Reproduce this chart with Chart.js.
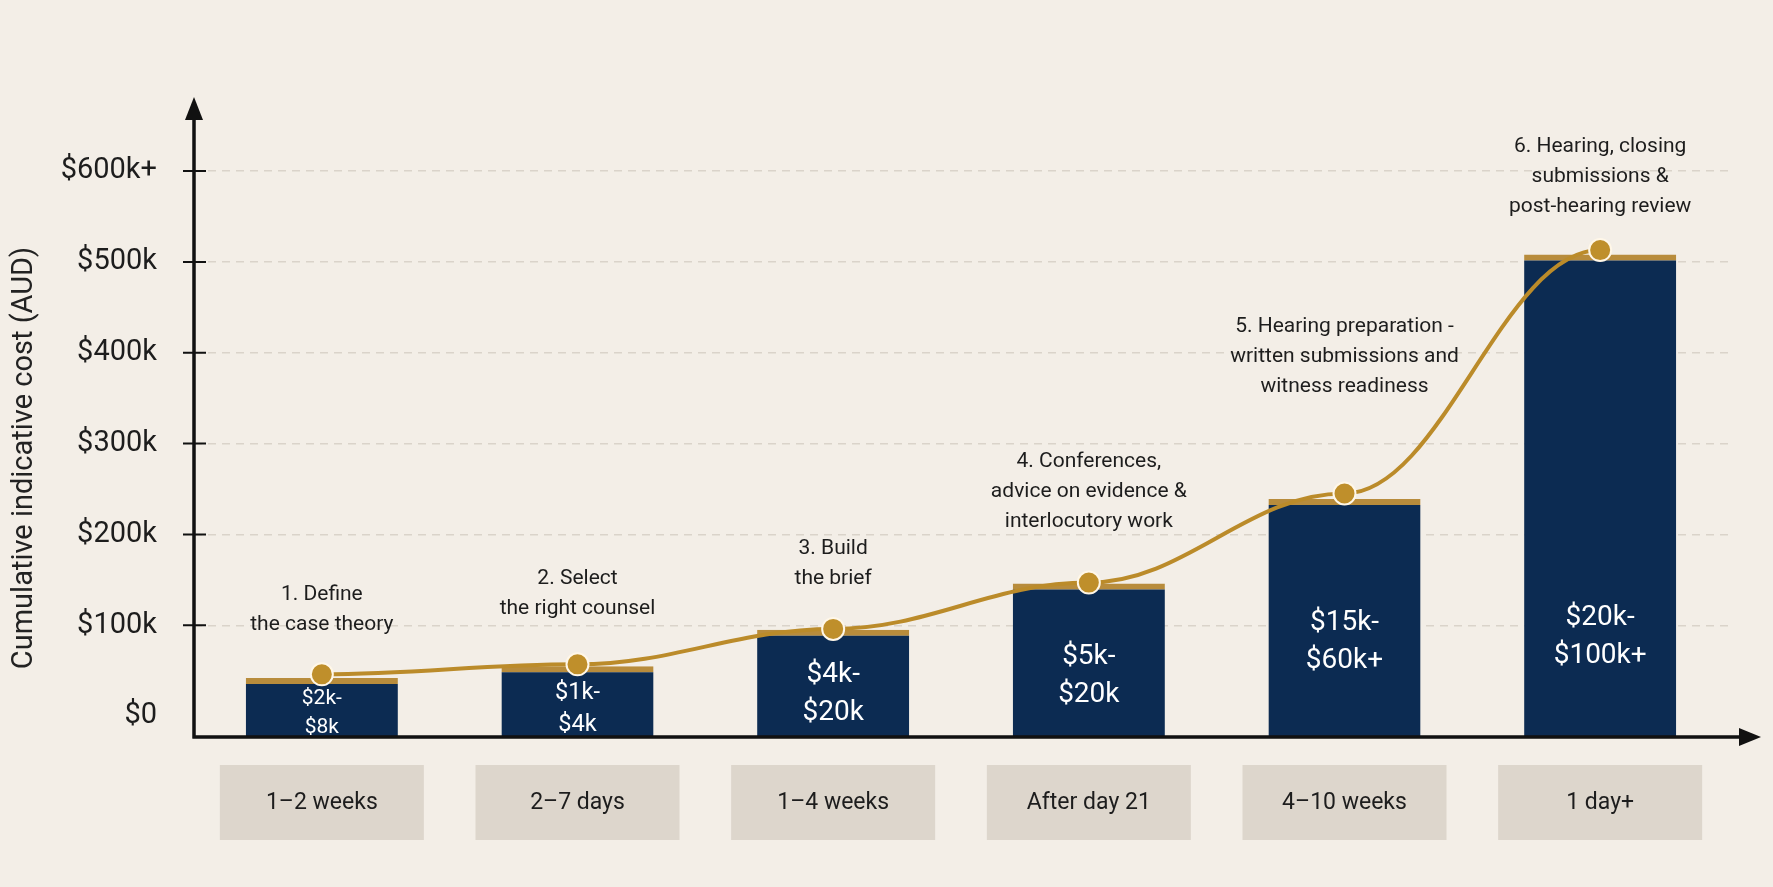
<!DOCTYPE html>
<html>
<head>
<meta charset="utf-8">
<script src="https://cdn.jsdelivr.net/npm/chart.js@4.4.1/dist/chart.umd.min.js"></script>
<style>
html,body{margin:0;padding:0;background:#f3eee7;}
#wrap{width:1773px;height:887px;position:relative;}
</style>
</head>
<body>
<div id="wrap"><canvas id="c"></canvas></div>
<script>
// ---- data ----
const durations = ['1–2 weeks', '2–7 days', '1–4 weeks', 'After day 21', '4–10 weeks', '1 day+'];
const stageTitles = [
  ['1. Define', 'the case theory'],
  ['2. Select', 'the right counsel'],
  ['3. Build', 'the brief'],
  ['4. Conferences,', 'advice on evidence &', 'interlocutory work'],
  ['5. Hearing preparation -', 'written submissions and', 'witness readiness'],
  ['6. Hearing, closing', 'submissions &', 'post-hearing review']
];
const stageCostRanges = [
  ['$2k-', '$8k'],
  ['$1k-', '$4k'],
  ['$4k-', '$20k'],
  ['$5k-', '$20k'],
  ['$15k-', '$60k+'],
  ['$20k-', '$100k+']
];
const barValues = [42000, 55000, 95000, 146000, 239000, 508000];
const cumulativeValues = [46000, 57000, 96000, 147000, 245000, 513000];
const yTickValues = [0, 100000, 200000, 300000, 400000, 500000, 600000];
const yTickLabels = ['$0', '$100k', '$200k', '$300k', '$400k', '$500k', '$600k+'];
const yAxisTitle = 'Cumulative indicative cost (AUD)';

// ---- styling ----
const BG = '#f3eee7';
const NAVY = '#0c2b52';
const GOLD = '#bb8b2a';
const INK = '#1d1d1d';
const Y_MIN = -23000;
const Y_MAX = 681500;
const annotationGap = [53, 57, 51, 62, 112, 48];
const CURVE_SMOOTH = 0.38;

const deco = {
  id: 'deco',
  beforeDraw(chart) {
    const { ctx, chartArea: a, scales: { x } } = chart;
    ctx.save();
    ctx.fillStyle = BG;
    ctx.fillRect(0, 0, chart.width, chart.height);
    ctx.fillStyle = '#ddd6cc';
    durations.forEach((d, i) => {
      const cx = x.getPixelForValue(i);
      ctx.fillRect(cx - 102, a.bottom + 28, 204, 75);
    });
    ctx.restore();
  },
  beforeDatasetDraw(chart, args) {
    if (args.index !== 1) return;
    const { ctx } = chart;
    const pts = args.meta.data;
    ctx.save();
    ctx.strokeStyle = GOLD;
    ctx.lineWidth = 4;
    ctx.lineCap = 'round';
    ctx.beginPath();
    ctx.moveTo(pts[0].x, pts[0].y);
    for (let i = 1; i < pts.length; i++) {
      const p = pts[i - 1], q = pts[i];
      const dx = (q.x - p.x) * CURVE_SMOOTH;
      ctx.bezierCurveTo(p.x + dx, p.y, q.x - dx, q.y, q.x, q.y);
    }
    ctx.stroke();
    ctx.restore();
  },
  afterDatasetsDraw(chart) {
    const { ctx, chartArea: a } = chart;
    const meta = chart.getDatasetMeta(0);
    const base = a.bottom;
    ctx.save();
    ctx.textAlign = 'center';
    ctx.textBaseline = 'middle';
    meta.data.forEach((bar, i) => {
      const h = base - bar.y;
      const fs = Math.min(28, 8 + h * 0.22);
      const lh = fs * 1.36;
      const cy = base - Math.min(0.4 * h, 100);
      ctx.font = fs.toFixed(1) + 'px Roboto';
      ctx.fillStyle = '#ffffff';
      const lines = stageCostRanges[i];
      lines.forEach((t, j) => ctx.fillText(t, bar.x, cy + (j - (lines.length - 1) / 2) * lh));
      ctx.font = '21px Roboto';
      ctx.fillStyle = INK;
      const L = stageTitles[i];
      L.forEach((t, j) => ctx.fillText(t, bar.x, bar.y - annotationGap[i] - (L.length - 1 - j) * 30));
    });
    ctx.restore();
  },
  afterDraw(chart) {
    const { ctx, chartArea: a, scales: { y } } = chart;
    const x0 = a.left;
    ctx.save();
    ctx.strokeStyle = '#111';
    ctx.fillStyle = '#111';
    ctx.lineWidth = 3.5;
    ctx.beginPath();
    ctx.moveTo(x0, a.bottom + 1.5);
    ctx.lineTo(x0, a.top + 20);
    ctx.moveTo(x0 - 1.5, a.bottom);
    ctx.lineTo(1742, a.bottom);
    ctx.stroke();
    ctx.beginPath();
    ctx.moveTo(x0, a.top);
    ctx.lineTo(x0 - 9, a.top + 23);
    ctx.lineTo(x0 + 9, a.top + 23);
    ctx.closePath();
    ctx.fill();
    ctx.beginPath();
    ctx.moveTo(1761, a.bottom);
    ctx.lineTo(1739, a.bottom - 9);
    ctx.lineTo(1739, a.bottom + 9);
    ctx.closePath();
    ctx.fill();
    ctx.lineWidth = 2;
    ctx.beginPath();
    yTickValues.forEach(v => {
      if (v === 0) return;
      const py = y.getPixelForValue(v);
      ctx.moveTo(x0 - 11, py);
      ctx.lineTo(x0 + 12, py);
    });
    ctx.stroke();
    ctx.translate(25, 458);
    ctx.rotate(-Math.PI / 2);
    ctx.font = '29px Roboto';
    ctx.fillStyle = '#222';
    ctx.textAlign = 'center';
    ctx.textBaseline = 'middle';
    ctx.fillText(yAxisTitle, 0, 0);
    ctx.restore();
  }
};

new Chart(document.getElementById('c'), {
  type: 'bar',
  data: {
    labels: durations,
    datasets: [
      {
        type: 'bar',
        label: 'Stage cost',
        data: barValues,
        base: Y_MIN,
        backgroundColor: NAVY,
        borderColor: '#b88c3c',
        borderWidth: { top: 6, right: 0, bottom: 0, left: 0 },
        borderSkipped: false,
        barPercentage: 0.595,
        categoryPercentage: 1,
        order: 2
      },
      {
        type: 'line',
        label: 'Cumulative',
        data: cumulativeValues,
        showLine: false,
        borderColor: GOLD,
        borderWidth: 4,
        pointRadius: 11,
        pointBackgroundColor: '#bf8f2b',
        pointBorderColor: '#fff7e8',
        pointBorderWidth: 2,
        fill: false,
        order: 1
      }
    ]
  },
  options: {
    responsive: true,
    maintainAspectRatio: false,
    animation: false,
    layout: { padding: { top: 97, right: 45, bottom: 0, left: 0 } },
    plugins: { legend: { display: false }, tooltip: { enabled: false } },
    scales: {
      x: {
        type: 'category',
        offset: true,
        grid: { display: false, drawTicks: false },
        border: { display: false },
        ticks: { font: { family: 'Roboto', size: 23 }, color: INK, padding: 52, maxRotation: 0 },
        afterFit: s => { s.height = 150; }
      },
      y: {
        min: Y_MIN,
        max: Y_MAX,
        afterBuildTicks: s => { s.ticks = yTickValues.map(v => ({ value: v })); },
        afterFit: s => { s.width = 194; },
        ticks: {
          callback: v => yTickLabels[yTickValues.indexOf(v)],
          font: { family: 'Roboto', size: 29 },
          color: INK,
          padding: 37
        },
        grid: {
          drawTicks: false,
          color: c => (c.tick && c.tick.value === 0) ? 'rgba(0,0,0,0)' : '#dad3ca',
          lineWidth: 1.5
        },
        border: { display: false, dash: [8, 6] }
      }
    }
  },
  plugins: [deco]
});
</script>
</body>
</html>
